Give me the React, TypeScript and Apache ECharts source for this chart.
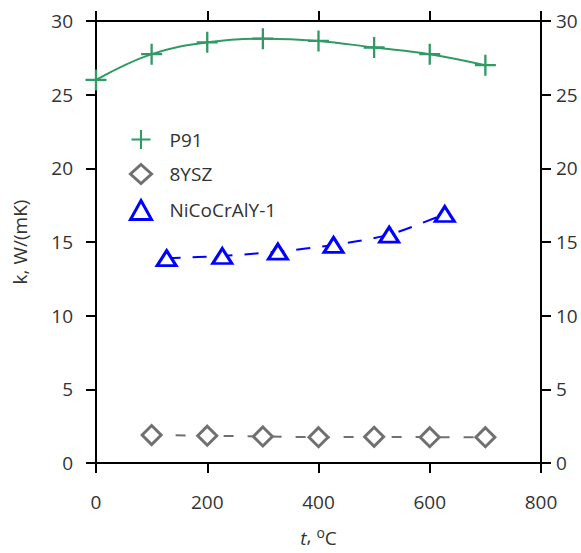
import React, { useEffect, useRef } from "react";
import * as echarts from "echarts";

// Thermal conductivity vs temperature
const p91T = [0, 100, 200, 300, 400, 500, 600, 700];
const p91K = [26.0, 27.75, 28.55, 28.8, 28.65, 28.2, 27.75, 27.0];

const ysz8T = [100, 200, 300, 400, 500, 600, 700];
const ysz8K = [1.9, 1.85, 1.8, 1.75, 1.78, 1.75, 1.75];

const nicoT = [127, 227, 327, 427, 527, 627];
const nicoK = [13.9, 14.05, 14.35, 14.8, 15.5, 16.9];

const yTicks = [0, 5, 10, 15, 20, 25, 30];
const xTicks = [0, 200, 400, 600, 800];

const GREEN = "#2f9a63";
const GRAY = "#707070";
const BLUE = "#0000ff";
const FONT = "Open Sans";
const TXT = "#333";
const FS = 19;

const PLUS = "path://M4.45,0h1.1v4.45h4.45v1.1h-4.45v4.45h-1.1v-4.45h-4.45v-1.1h4.45z";

const pairs = (xs: number[], ys: number[]) => xs.map((x, i) => [x, ys[i]]);

export default function App() {
  const ref = useRef<HTMLDivElement>(null);
  useEffect(() => {
    if (!ref.current) return;
    const chart = echarts.init(ref.current, undefined, { renderer: "svg" });
    const axisLine = { show: true, onZero: false, lineStyle: { color: "#000", width: 2 } };
    const axisTick = { show: true, inside: false, length: 10, lineStyle: { color: "#000", width: 2 } };
    const labelStyle = { color: TXT, fontSize: FS, fontFamily: FONT };
    chart.setOption({
      animation: false,
      backgroundColor: "#fff",
      textStyle: { fontFamily: FONT },
      grid: { left: 96, right: 40, top: 21, bottom: 90, containLabel: false, outerBoundsMode: "none" },
      legend: {
        orient: "vertical",
        left: 124,
        top: 125,
        itemGap: 14,
        itemWidth: 21,
        itemHeight: 19,
        textStyle: { color: TXT, fontSize: FS, fontFamily: FONT, padding: [0, 0, 0, 13] },
        lineStyle: { opacity: 0 },
        data: [
          { name: "P91", icon: PLUS, itemStyle: { color: GREEN, borderWidth: 0 } },
          { name: "8YSZ", icon: "diamond", itemStyle: { color: "#fff", borderColor: GRAY, borderWidth: 3 } },
          { name: "NiCoCrAlY-1", icon: "triangle", itemStyle: { color: "#fff", borderColor: BLUE, borderWidth: 3 } },
        ],
      },
      xAxis: [
        {
          type: "value",
          min: 0,
          max: 800,
          interval: 200,
          position: "bottom",
          axisLine,
          axisTick,
          splitLine: { show: false },
          axisLabel: { ...labelStyle, margin: 29, formatter: (v: number) => (xTicks.includes(v) ? String(v) : "") },
          name: "{it|t}, {sup|o}{n|C}",
          nameLocation: "middle",
          nameGap: 62,
          nameTextStyle: {
            color: TXT,
            fontSize: FS,
            fontFamily: FONT,
            rich: {
              it: { fontStyle: "italic", fontSize: FS, color: TXT, fontFamily: FONT, verticalAlign: "bottom" },
              sup: { fontSize: 14, color: TXT, fontFamily: FONT, verticalAlign: "bottom", padding: [0, 0, 8, 0] },
              n: { fontSize: FS, color: TXT, fontFamily: FONT, verticalAlign: "bottom" },
            },
          },
        },
        {
          type: "value",
          min: 0,
          max: 800,
          interval: 200,
          position: "top",
          axisLine,
          axisTick,
          axisLabel: { show: false },
          splitLine: { show: false },
        },
      ],
      yAxis: [
        {
          type: "value",
          min: 0,
          max: 30,
          interval: 5,
          position: "left",
          axisLine,
          axisTick,
          splitLine: { show: false },
          axisLabel: { ...labelStyle, margin: 23, formatter: (v: number) => (yTicks.includes(v) ? String(v) : "") },
          name: "k, W/(mK)",
          nameLocation: "middle",
          nameGap: 67,
          nameRotate: 90,
          nameTextStyle: { color: TXT, fontSize: FS, fontFamily: FONT },
        },
        {
          type: "value",
          min: 0,
          max: 30,
          interval: 5,
          position: "right",
          axisLine,
          axisTick,
          splitLine: { show: false },
          axisLabel: { ...labelStyle, margin: 15, formatter: (v: number) => (yTicks.includes(v) ? String(v) : "") },
        },
      ],
      series: [
        {
          name: "P91",
          type: "line",
          data: pairs(p91T, p91K),
          smooth: 0.4,
          symbol: PLUS,
          symbolSize: 21,
          itemStyle: { color: GREEN },
          lineStyle: { color: GREEN, width: 2 },
          z: 3,
        },
        {
          name: "8YSZ",
          type: "line",
          data: pairs(ysz8T, ysz8K),
          symbol: "diamond",
          symbolSize: 19,
          itemStyle: { color: "#fff", borderColor: GRAY, borderWidth: 3 },
          lineStyle: { color: GRAY, width: 2, type: [10, 14] },
          z: 2,
        },
        {
          name: "NiCoCrAlY-1",
          type: "line",
          data: pairs(nicoT, nicoK),
          smooth: 0.3,
          symbol: "triangle",
          symbolSize: [19, 15],
          itemStyle: { color: "#fff", borderColor: BLUE, borderWidth: 3 },
          lineStyle: { color: BLUE, width: 2, type: [14, 12] },
          z: 2,
        },
      ],
    });
    return () => chart.dispose();
  }, []);
  return (
    <div
      ref={ref}
      style={{ position: "fixed", left: 0, top: 0, width: 581, height: 553 }}
    />
  );
}
